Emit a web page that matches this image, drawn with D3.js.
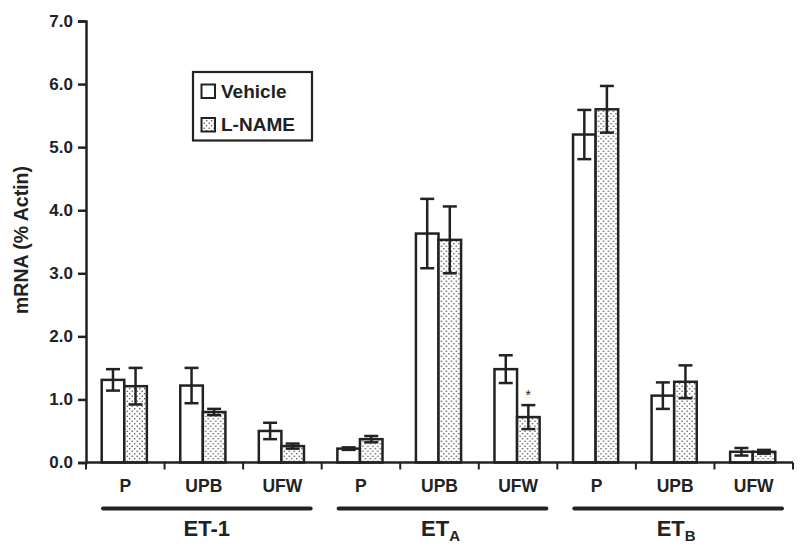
<!DOCTYPE html>
<html>
<head>
<meta charset="utf-8">
<script src="https://cdn.jsdelivr.net/npm/d3@7"></script>
<style>
  body { margin: 0; background: #fff; }
  svg text { font-family: "Liberation Sans", Arial, sans-serif; font-weight: bold; fill: #222; }
</style>
</head>
<body>
<div id="chart"></div>
<script>
'use strict';

// data
const groups = ['ET-1', 'ETA', 'ETB'];
const sites = ['P', 'UPB', 'UFW'];
const seriesNames = ['Vehicle', 'L-NAME'];
const vehicleMean = [1.31, 1.22, 0.50, 0.22, 3.63, 1.48, 5.20, 1.06, 0.17];
const vehicleErr = [0.17, 0.28, 0.13, 0.02, 0.55, 0.22, 0.39, 0.21, 0.06];
const lnameMean = [1.21, 0.80, 0.26, 0.37, 3.53, 0.72, 5.60, 1.28, 0.17];
const lnameErr = [0.29, 0.05, 0.04, 0.05, 0.53, 0.19, 0.37, 0.26, 0.03];
const yTicks = [0, 1, 2, 3, 4, 5, 6, 7];
const starIndex = 5; // L-NAME bar with the asterisk

const width = 800;
const height = 547;
const margin = { left: 86, right: 7, top: 21, bottom: 84.5 };
const ink = '#222';

const svg = d3.select('#chart')
  .append('svg')
    .attr('width', width)
    .attr('height', height);

// dotted fill for the L-NAME bars
const defs = svg.append('defs');
const pat = defs.append('pattern')
  .attr('id', 'dots')
  .attr('patternUnits', 'userSpaceOnUse')
  .attr('width', 5)
  .attr('height', 5);
pat.append('rect').attr('width', 5).attr('height', 5).attr('fill', '#fff');
pat.append('circle').attr('cx', 1.2).attr('cy', 1.2).attr('r', 0.75).attr('fill', '#444');
pat.append('circle').attr('cx', 3.7).attr('cy', 3.7).attr('r', 0.75).attr('fill', '#444');

// one category per group/site pair
const cats = [];
groups.forEach(g => sites.forEach(s => cats.push(g + '|' + s)));

const x = d3.scaleBand()
  .domain(cats)
  .range([margin.left, width - margin.right])
  .paddingInner(0)
  .paddingOuter(0);

const xInner = d3.scaleBand()
  .domain(seriesNames)
  .range([0, x.bandwidth()])
  .paddingInner(0)
  .paddingOuter(0.74)
  .align(0.47);

const y = d3.scaleLinear()
  .domain([0, 7])
  .range([height - margin.bottom, margin.top]);

// y axis
const yAxis = svg.append('g')
  .attr('transform', `translate(${margin.left},0)`)
  .call(d3.axisLeft(y).tickValues(yTicks).tickFormat(d3.format('.1f')).tickSize(8).tickPadding(5));
yAxis.select('.domain').attr('stroke', ink).attr('stroke-width', 2.5);
yAxis.selectAll('.tick line').attr('stroke', ink).attr('stroke-width', 2.5);
yAxis.selectAll('.tick text').style('font-size', '17px').attr('fill', ink);

svg.append('text')
  .attr('transform', 'translate(28,240) rotate(-90)')
  .attr('text-anchor', 'middle')
  .style('font-size', '19.5px')
  .text('mRNA (% Actin)');

// bars
const rows = cats.map((c, i) => ({
  cat: c,
  i: i,
  vals: [
    { s: 'Vehicle', m: vehicleMean[i], e: vehicleErr[i] },
    { s: 'L-NAME', m: lnameMean[i], e: lnameErr[i] }
  ]
}));

const catG = svg.selectAll('g.cat')
  .data(rows)
  .join('g')
    .attr('class', 'cat')
    .attr('transform', d => `translate(${x(d.cat)},0)`);

catG.selectAll('rect')
  .data(d => d.vals)
  .join('rect')
    .attr('x', d => xInner(d.s))
    .attr('y', d => y(d.m))
    .attr('width', xInner.bandwidth())
    .attr('height', d => y(0) - y(d.m))
    .attr('fill', d => d.s === 'Vehicle' ? '#fff' : 'url(#dots)')
    .attr('stroke', ink)
    .attr('stroke-width', 2.5);

// error bars
const cap = 7;
const err = catG.selectAll('g.err')
  .data(d => d.vals)
  .join('g')
    .attr('class', 'err')
    .attr('stroke', ink)
    .attr('stroke-width', 2.5);
err.append('line')
  .attr('x1', d => xInner(d.s) + xInner.bandwidth() / 2)
  .attr('x2', d => xInner(d.s) + xInner.bandwidth() / 2)
  .attr('y1', d => y(d.m + d.e))
  .attr('y2', d => y(d.m - d.e));
err.append('line')
  .attr('x1', d => xInner(d.s) + xInner.bandwidth() / 2 - cap)
  .attr('x2', d => xInner(d.s) + xInner.bandwidth() / 2 + cap)
  .attr('y1', d => y(d.m + d.e))
  .attr('y2', d => y(d.m + d.e));
err.append('line')
  .attr('x1', d => xInner(d.s) + xInner.bandwidth() / 2 - cap)
  .attr('x2', d => xInner(d.s) + xInner.bandwidth() / 2 + cap)
  .attr('y1', d => y(d.m - d.e))
  .attr('y2', d => y(d.m - d.e));

// asterisk over the significant bar
svg.append('text')
  .attr('x', x(cats[starIndex]) + xInner('L-NAME') + xInner.bandwidth() / 2)
  .attr('y', y(lnameMean[starIndex] + lnameErr[starIndex]) - 5)
  .attr('text-anchor', 'middle')
  .style('font-size', '14px')
  .style('font-weight', 'normal')
  .text('*');

// x axis with boundary ticks
svg.append('line')
  .attr('x1', margin.left).attr('x2', width - margin.right)
  .attr('y1', y(0)).attr('y2', y(0))
  .attr('stroke', ink).attr('stroke-width', 2.5);
svg.selectAll('line.xtick')
  .data(d3.range(cats.length + 1))
  .join('line')
    .attr('class', 'xtick')
    .attr('x1', i => margin.left + i * x.bandwidth())
    .attr('x2', i => margin.left + i * x.bandwidth())
    .attr('y1', y(0))
    .attr('y2', y(0) + 7)
    .attr('stroke', ink)
    .attr('stroke-width', 2);

svg.selectAll('text.site')
  .data(cats)
  .join('text')
    .attr('class', 'site')
    .attr('x', c => x(c) + x.bandwidth() / 2)
    .attr('y', y(0) + 29.5)
    .attr('text-anchor', 'middle')
    .style('font-size', '17.5px')
    .text(c => c.split('|')[1]);

// group underlines and names
const groupInfo = groups.map((g, gi) => {
  const first = x(cats[gi * 3]);
  const last = x(cats[gi * 3 + 2]) + x.bandwidth();
  return { g: g, x1: first + 17, x2: last - 11 };
});

svg.selectAll('line.grp')
  .data(groupInfo)
  .join('line')
    .attr('class', 'grp')
    .attr('x1', d => d.x1)
    .attr('x2', d => d.x2)
    .attr('y1', 508.5)
    .attr('y2', 508.5)
    .attr('stroke', ink)
    .attr('stroke-width', 4)
    .attr('stroke-linecap', 'round');

const gLabel = svg.selectAll('text.grp')
  .data(groupInfo)
  .join('text')
    .attr('class', 'grp')
    .attr('x', d => (d.x1 + d.x2) / 2 - (d.g === 'ET-1' ? 0 : 2))
    .attr('y', 536)
    .attr('text-anchor', 'middle')
    .style('font-size', '22px');
gLabel.each(function (d) {
  const t = d3.select(this);
  if (d.g === 'ET-1') {
    t.text('ET-1');
  } else {
    t.append('tspan').text('ET');
    t.append('tspan')
      .attr('dy', 5)
      .style('font-size', '15px')
      .text(d.g.slice(2));
  }
});

// legend
const legend = svg.append('g').attr('transform', 'translate(193,72)');
legend.append('rect')
  .attr('width', 119)
  .attr('height', 68.5)
  .attr('fill', '#fff')
  .attr('stroke', ink)
  .attr('stroke-width', 2.2);
seriesNames.forEach((s, i) => {
  legend.append('rect')
    .attr('x', 8.5)
    .attr('y', 12.5 + i * 33.5)
    .attr('width', 13.5)
    .attr('height', 13.5)
    .attr('fill', s === 'Vehicle' ? '#fff' : 'url(#dots)')
    .attr('stroke', ink)
    .attr('stroke-width', 2);
  legend.append('text')
    .attr('x', 28)
    .attr('y', 25.5 + i * 33.5)
    .style('font-size', '19px')
    .text(s);
});
</script>
</body>
</html>
